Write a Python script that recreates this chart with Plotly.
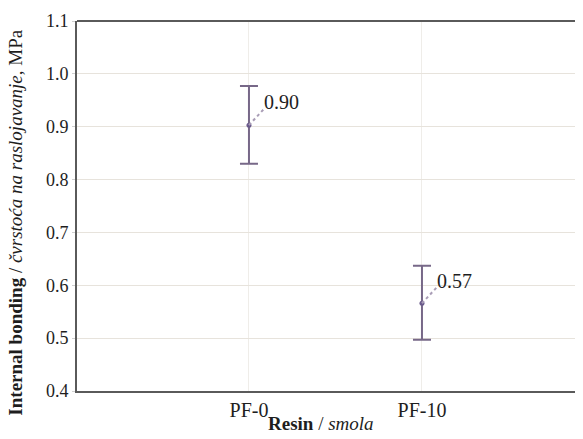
import plotly.graph_objects as go

categories = ["PF-0", "PF-10"]
means = [0.903, 0.566]
upper = [0.977, 0.637]
lower = [0.830, 0.497]
labels = ["0.90", "0.57"]
y_ticks = [0.4, 0.5, 0.6, 0.7, 0.8, 0.9, 1.0, 1.1]

xs = list(range(len(categories)))
err_plus = [u - m for u, m in zip(upper, means)]
err_minus = [m - l for m, l in zip(means, lower)]

FONT = "Liberation Serif, Times New Roman, serif"
TXT = "#1e1e1e"

fig = go.Figure()
fig.add_trace(go.Scatter(
    x=xs, y=means, mode="markers",
    marker=dict(color="#6b5b8c", size=5),
    error_y=dict(type="data", symmetric=False, array=err_plus, arrayminus=err_minus,
                 color="#776888", thickness=2, width=9),
    showlegend=False, hoverinfo="skip",
))

dx, dy, ty = 0.085, 0.030, 0.043
for x, m, t in zip(xs, means, labels):
    fig.add_shape(type="line", xref="x", yref="y", x0=x, y0=m, x1=x + dx, y1=m + dy,
                  line=dict(color="#a99db6", width=2, dash="dot"))
    fig.add_annotation(x=x + dx, y=m + ty, text=t, showarrow=False,
                       xanchor="left", yanchor="middle", xshift=-2,
                       font=dict(family=FONT, size=20, color=TXT))

# top border
fig.add_shape(type="line", xref="paper", yref="paper", x0=0, x1=1, y0=1, y1=1,
              line=dict(color="#5a5a5a", width=2))

# axis titles
fig.add_annotation(xref="paper", yref="paper", x=0.475, y=0, yshift=-32,
                   xanchor="center", yanchor="middle", showarrow=False,
                   text="<b>Resin</b> / <i>smola</i>",
                   font=dict(family=FONT, size=19, color=TXT))
fig.add_annotation(xref="paper", yref="paper", x=0, xshift=-61, y=0.455,
                   xanchor="center", yanchor="middle", showarrow=False, textangle=-90,
                   text="<b>Internal bonding</b> / <i>čvrstoća na raslojavanje</i>, MPa",
                   font=dict(family=FONT, size=19, color=TXT))

fig.update_layout(
    width=583, height=439,
    margin=dict(l=69, r=0, t=13, b=56),
    paper_bgcolor="white", plot_bgcolor="white",
    font=dict(family=FONT, size=18, color=TXT),
    xaxis=dict(
        range=[-0.994, 1.977], tickvals=xs, ticktext=categories,
        showgrid=True, gridcolor="#efede9", gridwidth=1,
        showline=True, linecolor="#5a5a5a", linewidth=2,
        ticks="", zeroline=False, automargin=False,
        tickfont=dict(family=FONT, size=20, color=TXT),
    ),
    yaxis=dict(
        range=[0.4, 1.1], tickvals=y_ticks, ticktext=[f"{v:.1f}" for v in y_ticks],
        showgrid=True, gridcolor="#e7e3dc", gridwidth=1,
        showline=True, linecolor="#5a5a5a", linewidth=2,
        ticks="outside", ticklen=3, tickcolor="#d0d0d0",
        zeroline=False, automargin=False,
        tickfont=dict(family=FONT, size=18, color=TXT),
    ),
)

fig.write_html("out.html")
